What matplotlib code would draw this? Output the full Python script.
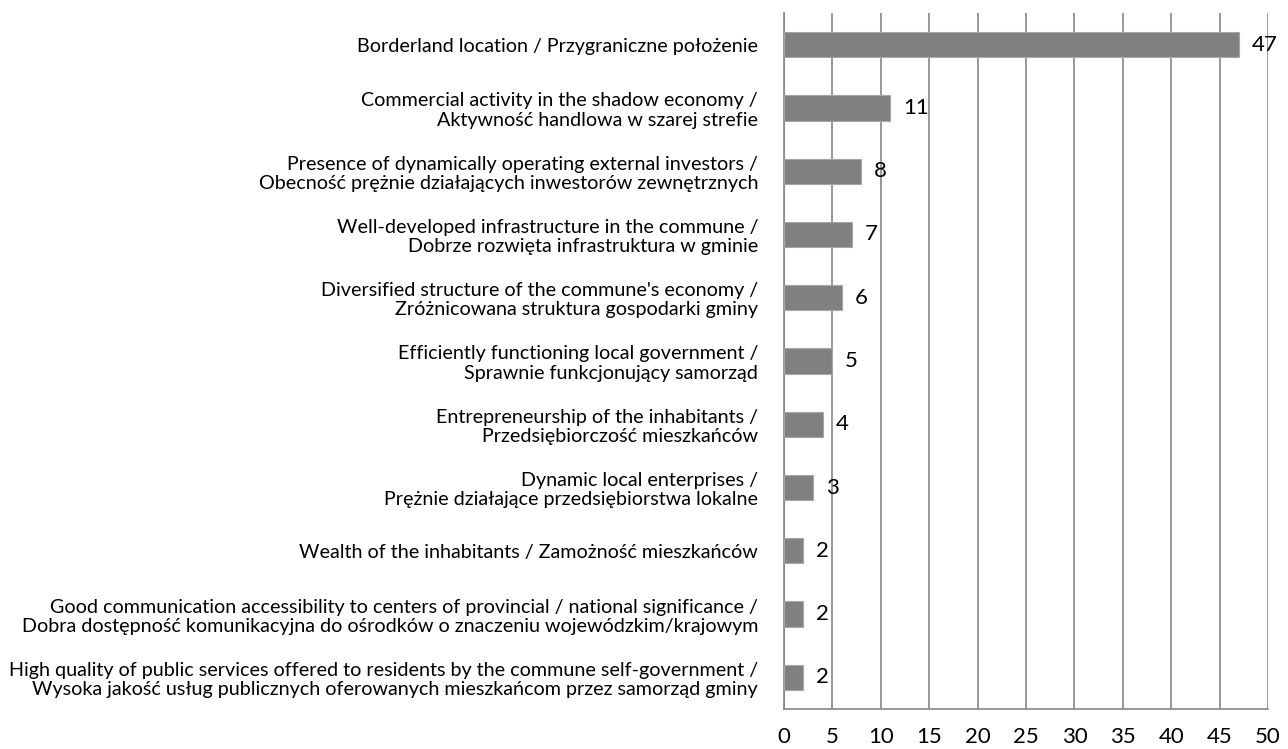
import matplotlib
matplotlib.use("Agg")
import matplotlib.pyplot as plt

categories = [
    "Borderland location / Przygraniczne położenie",
    "Commercial activity in the shadow economy /\nAktywność handlowa w szarej strefie",
    "Presence of dynamically operating external investors /\nObecność prężnie działających inwestorów zewnętrznych",
    "Well-developed infrastructure in the commune /\nDobrze rozwięta infrastruktura w gminie",
    "Diversified structure of the commune's economy /\nZróżnicowana struktura gospodarki gminy",
    "Efficiently functioning local government /\nSprawnie funkcjonujący samorząd",
    "Entrepreneurship of the inhabitants /\nPrzedsiębiorczość mieszkańców",
    "Dynamic local enterprises /\nPrężnie działające przedsiębiorstwa lokalne",
    "Wealth of the inhabitants / Zamożność mieszkańców",
    "Good communication accessibility to centers of provincial / national significance /\nDobra dostępność komunikacyjna do ośrodków o znaczeniu wojewódzkim/krajowym",
    "High quality of public services offered to residents by the commune self-government /\nWysoka jakość usług publicznych oferowanych mieszkańcom przez samorząd gminy",
]
values = [47, 11, 8, 7, 6, 5, 4, 3, 2, 2, 2]
xticks = [0, 5, 10, 15, 20, 25, 30, 35, 40, 45, 50]

plt.rcParams['font.family'] = ['Lato', 'DejaVu Sans']

fig = plt.figure(figsize=(12.88, 7.49), dpi=100)
ax = fig.add_axes([784/1288, 1-709/749, (1268-784)/1288, (709-13)/749])

n = len(categories)
ypos = list(range(n))
ax.barh(ypos, values, height=0.4, color="#808080", edgecolor="#a6a6a6", linewidth=0.8, zorder=3)
for y, v in zip(ypos, values):
    ax.text(v + 1.3, y, str(v), va="center", ha="left", fontsize=16, color="black", zorder=4)

ax.set_ylim(n - 0.5, -0.5)
ax.set_xlim(0, 50)
ax.set_xticks(xticks)
ax.set_xticklabels([str(t) for t in xticks], fontsize=16)
ax.set_yticks(ypos)
ax.set_yticklabels(categories, fontsize=14.2, ha="right", linespacing=1.15)
ax.tick_params(axis="both", length=0)
ax.tick_params(axis="y", pad=18.7)
ax.tick_params(axis="x", pad=13)
ax.xaxis.grid(True, color="#868686", linewidth=1.2, zorder=0)
ax.yaxis.grid(False)
for s in ["top", "right"]:
    ax.spines[s].set_visible(False)
ax.spines["left"].set_color("#868686")
ax.spines["left"].set_linewidth(1.2)
ax.spines["bottom"].set_color("#868686")
ax.spines["bottom"].set_linewidth(1.2)
ax.set_axisbelow(True)

fig.savefig("out.png", dpi=100)
